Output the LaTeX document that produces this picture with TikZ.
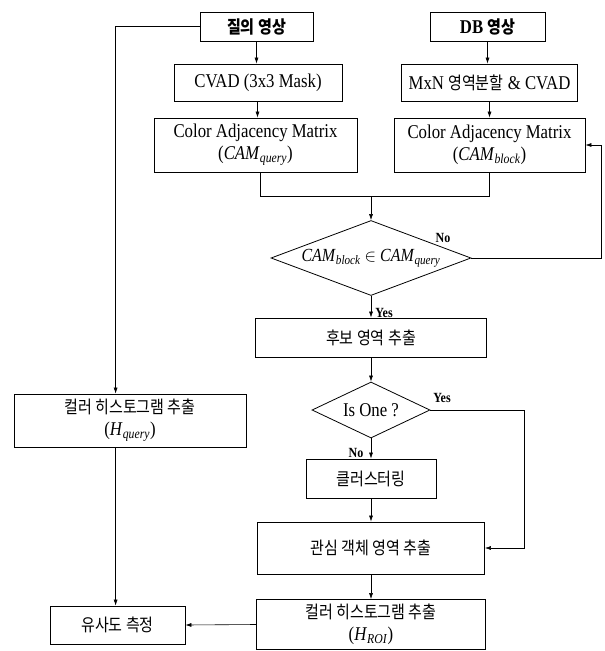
\documentclass[tikz,border=0pt]{standalone}
\usepackage{fontspec}
\setmainfont{Liberation Serif}[FakeStretch=0.86]
\newfontfamily\kr{Noto Sans CJK KR}[FakeStretch=0.86]
\usetikzlibrary{shapes.geometric,arrows.meta}
\newcommand\itsub[2]{\textit{#1}\textsubscript{\textit{#2}}}
\tikzset{
  box/.style={draw, line width=0.8pt, inner sep=0pt, align=center,
    font=\fontsize{19.5}{22}\selectfont},
  dia/.style={draw, diamond, line width=0.8pt, inner sep=0pt, align=center,
    font=\fontsize{18.5}{22}\selectfont},
  arr/.style={-{Latex[length=6pt,width=4pt]}, line width=0.6pt},
  ln/.style={line width=0.6pt},
  lab/.style={font=\bfseries\fontsize{14}{14}\selectfont, inner sep=0pt},
  krt/.style={font=\kr\fontsize{17.5}{22}\selectfont}
}
\begin{document}
\begin{tikzpicture}[x=1pt,y=-1pt]
\useasboundingbox (0,0) rectangle (605,651);
% top row
\node[box, minimum width=113, minimum height=29] (q) at (256.5,26.5) {\bfseries\kr\fontsize{17.5}{22}\selectfont 질의 영상};
\node[box, minimum width=115, minimum height=29] (db) at (487.5,26.5) {\bfseries DB {\kr\fontsize{17.5}{22}\selectfont 영상}};
\node[box, minimum width=168, minimum height=37] (cvad) at (258,82.5) {CVAD (3x3 Mask)};
\node[box, minimum width=176, minimum height=37] (mxn) at (489.5,82.5) {MxN {\kr\fontsize{17.5}{22}\selectfont 영역분할} \& CVAD};
\node[box, minimum width=203, minimum height=54] (camq) at (255.5,145) {Color Adjacency Matrix\\(\itsub{CAM}{query})};
\node[box, minimum width=191, minimum height=54] (camb) at (489.5,145) {Color Adjacency Matrix\\(\itsub{CAM}{block})};
% decision 1
\node[dia, shape aspect=2.67, minimum width=200, minimum height=75] (d1) at (371,258) {\itsub{CAM}{block} $\in$ \itsub{CAM}{query}};
\node[box, krt, minimum width=231, minimum height=39] (cand) at (371,337.5) {후보 영역 추출};
\node[dia, shape aspect=2.1, minimum width=118, minimum height=56, font=\fontsize{19.5}{22}\selectfont] (d2) at (371,410) {Is One ?};
\node[box, krt, minimum width=130, minimum height=39] (clus) at (371,478.5) {클러스터링};
\node[box, krt, minimum width=227, minimum height=52] (roi) at (371,548) {관심 객체 영역 추출};
\node[box, minimum width=229, minimum height=50] (hroi) at (371,624.5) {{\kr\fontsize{17.5}{22}\selectfont 컬러 히스토그램 추출}\\(\itsub{H}{ROI})};
% left column
\node[box, minimum width=232, minimum height=53] (hq) at (130,420.5) {{\kr\fontsize{17.5}{22}\selectfont 컬러 히스토그램 추출}\\(\itsub{H}{query})};
\node[box, krt, minimum width=135, minimum height=38] (sim) at (117.5,625) {유사도 측정};
% helper coordinates
\coordinate (lx) at (115.6,0);
\coordinate (m) at (371,196);
\coordinate (fb) at (601,0);
\coordinate (yx) at (524,0);
% connectors
\draw[arr] (q) -- (q |- cvad.north);
\draw[arr] (db) -- (db |- mxn.north);
\draw[arr] ([xshift=2pt]camq.north |- cvad.south) -- ([xshift=2pt]camq.north);
\draw[arr] (mxn) -- (camb);
\draw[ln] ([xshift=5pt]camq.south) |- (camb.south |- m) -- (camb.south);
\draw[arr] (m) -- (d1.north);
\draw[arr] (d1.east) -| (fb |- camb.east) -- (camb.east);
\draw[arr] (d1.south) -- (cand.north);
\draw[arr] (cand.south) -- (d2.north);
\draw[arr] (d2.south) -- (clus.north);
\draw[arr] (d2.east) -| (yx |- roi.east) -- (roi.east);
\draw[arr] (clus.south) -- (roi.north);
\draw[arr] (roi.south) -- (hroi.north);
\draw[arr] (hroi.west) -- (sim.east);
\draw[arr] (q.west) -| (lx |- hq.north);
\draw[arr] (lx |- hq.south) -- (lx |- sim.north);
% labels
\node[lab] (no1) at (443,238) {No};
\node[lab] (yes1) at (384,313) {Yes};
\node[lab] (yes2) at (442,398) {Yes};
\node[lab] (no2) at (356,453) {No};
\end{tikzpicture}
\end{document}
